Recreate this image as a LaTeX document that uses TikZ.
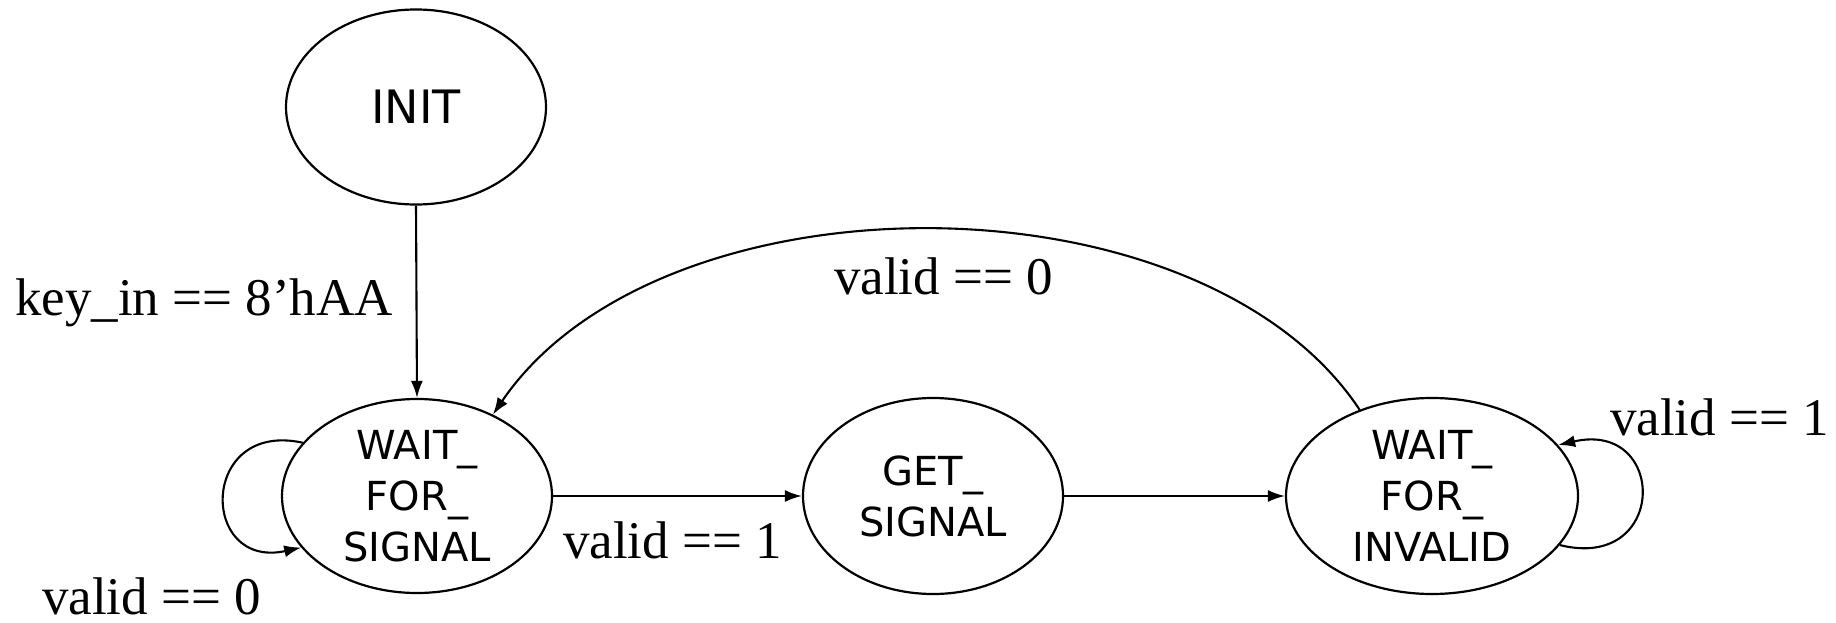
\documentclass[tikz,border=0pt]{standalone}
\usepackage{fontspec}
\setmainfont{Liberation Serif}
\newfontfamily\statefont{DejaVu Sans}
\usetikzlibrary{shapes.geometric,arrows.meta}
\tikzset{
  state/.style={draw, ellipse, line width=2.2pt, inner sep=0pt, align=center,
    font=\statefont\fontsize{40}{51}\selectfont},
  conn/.style={line width=2.1pt, -{Latex[length=17pt,width=12pt]}},
  lbl/.style={inner sep=0pt, anchor=base west, font=\fontsize{53}{60}\selectfont}
}
\begin{document}
\begin{tikzpicture}[x=1pt,y=-1pt]
\useasboundingbox (0,0) rectangle (1836,623);
\node[state, minimum width=260pt, minimum height=195pt, font=\statefont\fontsize{46}{51}\selectfont] (init) at (416,107) {INIT};
\node[state, minimum width=270pt, minimum height=194pt] (wfs) at (417,496) {WAIT\_\\FOR\_\\SIGNAL};
\node[state, minimum width=260pt, minimum height=196pt] (get) at (933,496) {GET\_\\SIGNAL};
\node[state, minimum width=292pt, minimum height=196pt] (wfi) at (1432,496) {WAIT\_\\FOR\_\\INVALID};

\draw[conn] (init.south) -- (wfs.north);
\draw[conn] (wfs.east) -- (get.west);
\draw[conn] (get.east) -- (wfi.west);
\draw[conn] (wfi.130) .. controls (1200,169) and (660,169) .. (wfs.47);
\draw[conn] (wfs.155) .. controls (199,420) and (199,570) .. (wfs.204);
\draw[conn] (wfi.339) .. controls (1668,572) and (1668,420) .. (wfi.22);

\node[lbl] (l1) at (15,315) {key\_in == 8’hAA};
\node[lbl] (l2) at (834,294) {valid == 0};
\node[lbl] (l3) at (563,558) {valid == 1};
\node[lbl] (l4) at (42,614) {valid == 0};
\node[lbl] (l5) at (1610,435) {valid == 1};
\end{tikzpicture}
\end{document}
